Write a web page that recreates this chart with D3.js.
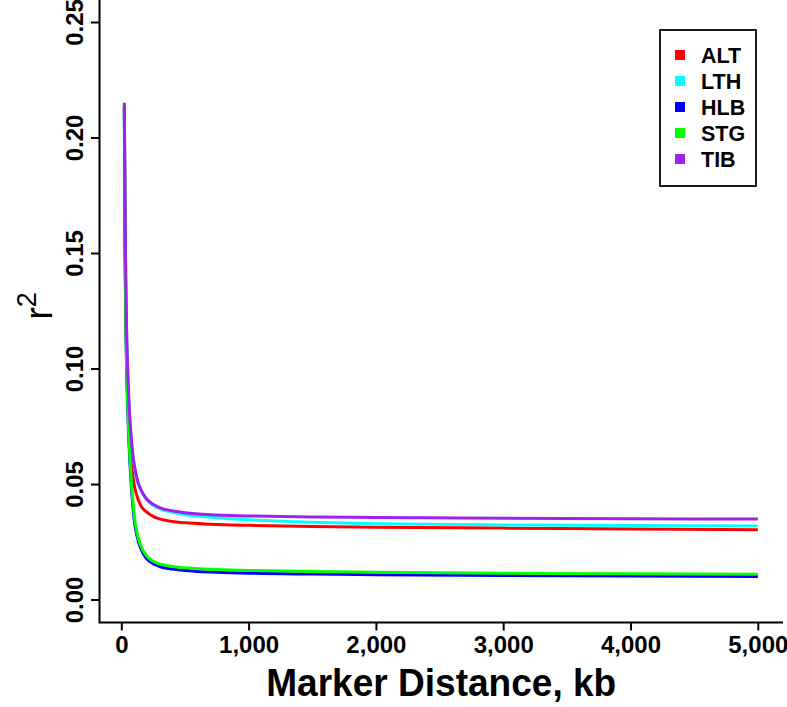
<!DOCTYPE html>
<html>
<head>
<meta charset="utf-8">
<script src="https://cdn.jsdelivr.net/npm/d3@7/dist/d3.min.js"></script>
<style>
  html, body { margin: 0; padding: 0; background: #fff; }
  svg { display: block; font-family: "Liberation Sans", Arial, Helvetica, sans-serif; }
</style>
</head>
<body>
<svg id="chart" width="787" height="707"></svg>
<script>
// ---- data (distance in kb, r^2 values) ----
const distances = [24, 28, 32, 40, 50, 60, 70, 80, 90, 100, 125, 150, 200, 250, 300, 400, 500, 700, 1000, 1500, 2000, 3000, 4000, 5000];
const ALT = [0.213, 0.170, 0.143, 0.112, 0.090, 0.076, 0.066, 0.059, 0.054, 0.050, 0.0445, 0.041, 0.0378, 0.0360, 0.0349, 0.0338, 0.0332, 0.0326, 0.0321, 0.0316, 0.0313, 0.0309, 0.0305, 0.0302];
const LTH = [0.214, 0.177, 0.151, 0.121, 0.099, 0.085, 0.075, 0.068, 0.0625, 0.0585, 0.0515, 0.0476, 0.0432, 0.0408, 0.0393, 0.0377, 0.0367, 0.0356, 0.0345, 0.0334, 0.0328, 0.0323, 0.0320, 0.0318];
const HLB = [0.213, 0.163, 0.135, 0.104, 0.083, 0.068, 0.057, 0.048, 0.041, 0.035, 0.0272, 0.0225, 0.0176, 0.0155, 0.0143, 0.0132, 0.0126, 0.0119, 0.0114, 0.0110, 0.0107, 0.0104, 0.0102, 0.0100];
const STG = [0.214, 0.165, 0.137, 0.106, 0.085, 0.070, 0.059, 0.050, 0.043, 0.037, 0.0285, 0.0237, 0.0188, 0.0166, 0.0154, 0.0143, 0.0137, 0.0131, 0.0126, 0.0121, 0.0118, 0.0114, 0.0111, 0.0109];
const TIB = [0.215, 0.178, 0.152, 0.122, 0.100, 0.086, 0.076, 0.069, 0.063, 0.059, 0.052, 0.048, 0.0435, 0.0412, 0.0398, 0.0384, 0.0376, 0.0367, 0.0362, 0.0357, 0.0355, 0.0352, 0.0350, 0.0348];

const seriesNames = ["ALT", "LTH", "HLB", "STG", "TIB"];
const seriesValues = [ALT, LTH, HLB, STG, TIB];
const seriesColors = ["#FF0000", "#00FFFF", "#0000FF", "#00FF00", "#A020F0"];

const xTicks = [0, 1000, 2000, 3000, 4000, 5000];
const yTicks = [0, 0.05, 0.10, 0.15, 0.20, 0.25];
const xTitle = "Marker Distance, kb";

// ---- layout ----
const svg = d3.select("#chart");
const box = { left: 99.5, right: 783, top: 0, bottom: 622.5 };

const x = d3.scaleLinear().domain([0, 5000]).range([121.3, 757.8]);
const y = d3.scaleLinear().domain([0, 0.25]).range([599.5, 22]);

// L-shaped frame
svg.append("path")
  .attr("d", `M${box.left},${box.top}V${box.bottom}H${box.right}`)
  .attr("fill", "none").attr("stroke", "#000").attr("stroke-width", 2);

// x axis
const xAxis = d3.axisBottom(x).tickValues(xTicks).tickSize(8).tickPadding(5)
  .tickFormat(d3.format(","));
const gx = svg.append("g").attr("transform", `translate(0,${box.bottom})`).call(xAxis);
gx.select(".domain").remove();
gx.selectAll(".tick line").attr("stroke", "#000").attr("stroke-width", 2);
gx.selectAll(".tick text").attr("font-size", 24).attr("font-weight", "bold")
  .attr("fill", "#000").attr("font-family", "Liberation Sans, Arial, sans-serif");

// y axis
const yAxis = d3.axisLeft(y).tickValues(yTicks).tickSize(8.5).tickFormat(d3.format(".2f"));
const gy = svg.append("g").attr("transform", `translate(${box.left},0)`).call(yAxis);
gy.select(".domain").remove();
gy.selectAll(".tick line").attr("stroke", "#000").attr("stroke-width", 2);
gy.selectAll(".tick text")
  .attr("font-size", 24).attr("font-weight", "bold").attr("fill", "#000")
  .attr("font-family", "Liberation Sans, Arial, sans-serif")
  .attr("x", null).attr("dy", null)
  .attr("text-anchor", "middle")
  .attr("transform", "translate(-16.5,0) rotate(-90)");

// axis titles
svg.append("text")
  .attr("x", (box.left + box.right) / 2).attr("y", 696)
  .attr("text-anchor", "middle")
  .attr("font-size", 39).attr("font-weight", "bold")
  .attr("textLength", 350).attr("lengthAdjust", "spacingAndGlyphs")
  .text(xTitle);

const yt = svg.append("text")
  .attr("transform", `translate(52,306) rotate(-90)`)
  .attr("text-anchor", "middle")
  .attr("font-size", 38);
yt.append("tspan").text("r");
yt.append("tspan").attr("font-size", 27).attr("dy", -16).text("2");

// lines
const line = d3.line()
  .x((d, i) => x(distances[i]))
  .y(d => y(d))
  .curve(d3.curveMonotoneX);

svg.append("g").selectAll("path")
  .data(seriesValues)
  .join("path")
  .attr("d", d => line(d))
  .attr("fill", "none")
  .attr("stroke", (d, i) => seriesColors[i])
  .attr("stroke-width", 3)
  .attr("stroke-linejoin", "round");

// legend
const lg = svg.append("g");
lg.append("rect")
  .attr("x", 660).attr("y", 30).attr("width", 96).attr("height", 156)
  .attr("fill", "#fff").attr("stroke", "#000").attr("stroke-width", 1.8);
const rowY = d3.scaleLinear().domain([0, 4]).range([55, 159]);
seriesNames.forEach((name, i) => {
  lg.append("rect")
    .attr("x", 675).attr("y", rowY(i) - 5).attr("width", 10).attr("height", 10)
    .attr("fill", seriesColors[i]);
  lg.append("text")
    .attr("x", 701).attr("y", rowY(i) + 8)
    .attr("font-size", 21.5).attr("font-weight", "bold")
    .text(name);
});
</script>
</body>
</html>
